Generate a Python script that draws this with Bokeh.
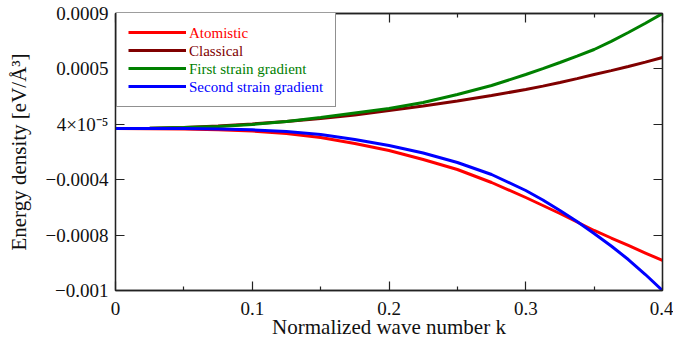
from bokeh.plotting import figure
from bokeh.models import Range1d, LinearAxis, FixedTicker, Legend, LegendItem
from bokeh.embed import file_html
from bokeh.resources import INLINE

# ---- data ----
k = [0.0, 0.025, 0.05, 0.075, 0.1, 0.125, 0.15, 0.175, 0.2, 0.225,
     0.25, 0.275, 0.3, 0.3125, 0.325, 0.3375, 0.35, 0.3625, 0.375, 0.3875, 0.4]
atomistic = [1.112e-4, 1.098e-4, 1.071e-4, 1.023e-4, 0.940e-4, 0.769e-4, 0.495e-4,
             0.083e-4, -0.397e-4, -1.014e-4, -1.700e-4, -2.592e-4, -3.621e-4,
             -4.170e-4, -4.718e-4, -5.301e-4, -5.884e-4, -6.399e-4, -6.913e-4,
             -7.428e-4, -7.942e-4]
classical = [1.112e-4, 1.126e-4, 1.181e-4, 1.283e-4, 1.421e-4, 1.592e-4, 1.798e-4,
             2.038e-4, 2.347e-4, 2.655e-4, 2.998e-4, 3.375e-4, 3.787e-4,
             4.020e-4, 4.267e-4, 4.535e-4, 4.816e-4, 5.083e-4, 5.365e-4,
             5.666e-4, 5.982e-4]
first_sg = [1.112e-4, 1.126e-4, 1.181e-4, 1.249e-4, 1.386e-4, 1.592e-4, 1.866e-4,
            2.175e-4, 2.484e-4, 2.895e-4, 3.444e-4, 4.061e-4, 4.816e-4,
            5.214e-4, 5.639e-4, 6.071e-4, 6.531e-4, 7.093e-4, 7.697e-4,
            8.335e-4, 9.000e-4]
second_sg = [1.112e-4, 1.112e-4, 1.112e-4, 1.078e-4, 1.023e-4, 0.906e-4, 0.700e-4,
             0.357e-4, -0.054e-4, -0.569e-4, -1.220e-4, -2.043e-4, -3.141e-4,
             -3.792e-4, -4.513e-4, -5.267e-4, -6.090e-4, -6.948e-4, -7.874e-4,
             -8.903e-4, -10.000e-4]

series_names = ["Atomistic", "Classical", "First strain gradient", "Second strain gradient"]
series_colors = ["#ff0000", "#800000", "#008000", "#0000ff"]
series_values = [atomistic, classical, first_sg, second_sg]

x_ticks = [0.0, 0.1, 0.2, 0.3, 0.4]
x_tick_labels = ["0", "0.1", "0.2", "0.3", "0.4"]
x_minor_ticks = [0.05, 0.15, 0.25, 0.35]
y_ticks = [0.0009, 0.00052, 0.00014, -0.00024, -0.00062, -0.001]
y_tick_labels = ["0.0009", "0.0005", "4×10⁻⁵", "−0.0004", "−0.0008", "−0.001"]

x_title = "Normalized wave number k"
y_title = "Energy density [eV/Å³]"

FONT = "Liberation Serif"
AX = "#222222"
TXT = "#111111"

p = figure(frame_width=547, frame_height=277,
           x_range=Range1d(0, 0.4), y_range=Range1d(-0.001, 0.0009),
           output_backend="svg", toolbar_location=None,
           min_border_left=115, min_border_right=11,
           min_border_top=13, min_border_bottom=52)
p.grid.visible = False
p.outline_line_color = AX
p.outline_line_width = 1.3

renderers = []
for name, col, vals in zip(series_names, series_colors, series_values):
    r = p.line(k, vals, line_color=col, line_width=3)
    renderers.append(r)


def style_axis(ax):
    ax.axis_line_color = AX
    ax.axis_line_width = 1.3
    ax.major_tick_line_color = AX
    ax.major_tick_line_width = 1.2
    ax.minor_tick_line_color = AX
    ax.minor_tick_line_width = 1.2
    ax.major_tick_in = 9
    ax.major_tick_out = 0
    ax.minor_tick_in = 4
    ax.minor_tick_out = 0
    ax.major_label_text_font = FONT
    ax.major_label_text_color = TXT
    ax.axis_label_text_font = FONT
    ax.axis_label_text_font_style = "normal"
    ax.axis_label_text_color = TXT


xa = p.xaxis[0]
xa.ticker = FixedTicker(ticks=x_ticks, minor_ticks=x_minor_ticks)
xa.major_label_overrides = dict(zip(x_ticks, x_tick_labels))
style_axis(xa)
xa.major_label_text_font_size = "19px"
xa.major_label_standoff = 11
xa.axis_label = x_title
xa.axis_label_text_font_size = "21px"
xa.axis_label_standoff = -3

ya = p.yaxis[0]
ya.ticker = FixedTicker(ticks=y_ticks, minor_ticks=[])
ya.major_label_overrides = dict(zip(y_ticks, y_tick_labels))
style_axis(ya)
ya.major_label_text_font_size = "19px"
ya.major_label_standoff = 7
ya.axis_label = y_title
ya.axis_label_text_font_size = "21px"
ya.axis_label_standoff = 12

top = LinearAxis(ticker=FixedTicker(ticks=x_ticks, minor_ticks=x_minor_ticks))
style_axis(top)
top.major_label_text_font_size = "0px"
top.major_label_text_color = None
top.major_label_standoff = 0
p.add_layout(top, "above")

right = LinearAxis(ticker=FixedTicker(ticks=y_ticks, minor_ticks=[]))
style_axis(right)
right.major_label_text_font_size = "0px"
right.major_label_text_color = None
right.major_label_standoff = 0
p.add_layout(right, "right")

# legend: frame + glyphs (labels hidden), then coloured labels overlaid
PAD = 11
ROW = 18
FH = 277
common = dict(spacing=0, margin=0, glyph_width=58, glyph_height=ROW,
              label_height=ROW, label_standoff=4, label_text_font=FONT,
              label_text_font_size="15px")
main = Legend(items=[LegendItem(label=n, renderers=[r]) for n, r in zip(series_names, renderers)],
              location=(1, FH - (2 * PAD + 4 * ROW)), padding=PAD,
              label_text_color=None, border_line_color=AX, border_line_width=1.3,
              background_fill_color="white", background_fill_alpha=1, **common)
p.add_layout(main, "center")

for i, (name, col, vals) in enumerate(zip(series_names, series_colors, series_values)):
    ghost = p.line(k, vals, line_alpha=0, line_width=3)
    leg = Legend(items=[LegendItem(label=name, renderers=[ghost])],
                 location=(1 + PAD, FH - PAD - ROW * (i + 1)), padding=0,
                 label_text_color=col, border_line_color=None,
                 background_fill_alpha=0, **common)
    p.add_layout(leg, "center")

open("out.html", "w").write(file_html(p, INLINE))
